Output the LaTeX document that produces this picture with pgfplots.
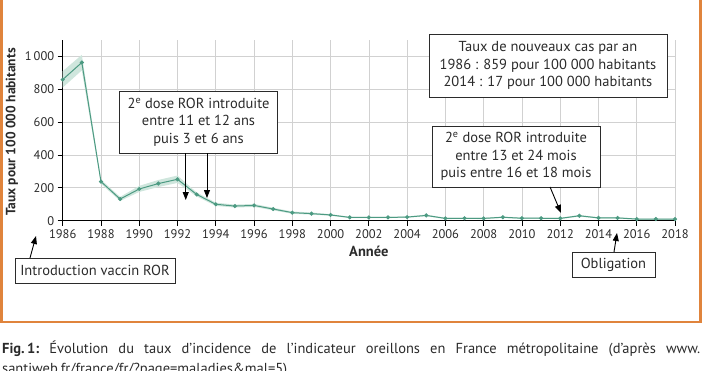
\documentclass[border=0pt]{standalone}
\usepackage{fontspec}
\setmainfont{PT Sans}
\usepackage{pgfplots}
\pgfplotsset{compat=1.18}
\usepgfplotslibrary{fillbetween}
\usetikzlibrary{arrows.meta}
\definecolor{frameor}{HTML}{E0843C}
\definecolor{teal1}{HTML}{4C9A82}
\definecolor{bandc}{HTML}{CFE6DD}
\definecolor{txt}{HTML}{2B2B2B}
\pgfplotstableread{
year val lo hi
1986 859 810 910
1987 963 915 1010
1988 238 225 250
1989 132 120 145
1990 193 175 212
1991 226 205 248
1992 252 230 275
1993 160 148 172
1994 100 90 110
1995 89 80 98
1996 93 84 102
1997 71 63 79
1998 49 42 56
1999 43 37 50
2000 35 30 40
2001 20 16 24
2002 20 16 24
2003 20 16 24
2004 22 18 26
2005 32 27 37
2006 14 10 18
2007 15 11 19
2008 14 10 18
2009 21 17 25
2010 15 11 19
2011 15 11 19
2012 14 10 18
2013 30 25 35
2014 17 13 21
2015 17 13 21
2016 10 7 13
2017 10 7 13
2018 10 7 13
}\datatable
\tikzset{annot/.style={draw=txt, fill=white, line width=0.8pt, text=txt, align=center, inner sep=0pt, font=\fontsize{14.5}{17.5}\selectfont},
  arr/.style={-{Triangle[length=8pt,width=6pt]}, line width=0.9pt, draw=black}}
\begin{document}
\begin{tikzpicture}
\path (0pt,0pt) rectangle (702pt,370pt);
\node[anchor=base west, inner sep=0pt, text=txt, font=\fontsize{14.5}{16}\selectfont] at (2pt,17pt)
  {\makebox[698pt][s]{\mbox{\textbf{Fig.\,1:}} Évolution du taux d'incidence de l'indicateur oreillons en France métropolitaine (d'après www.}};
\node[rotate=90, text=txt, font=\fontsize{13.5}{15}\selectfont\bfseries] at (12pt,238pt) {Taux pour 100 000 habitants};
\begin{axis}[at={(62.7pt,149.3pt)}, anchor=south west, scale only axis,
  width=612.3pt, height=180.7pt,
  xmin=1986, xmax=2018, ymin=0, ymax=1100,
  axis lines=left, axis line style={-},
  x axis line style={line width=1.3pt, black},
  y axis line style={line width=0.9pt, black},
  xtick={1986,1988,...,2018}, ytick={0,200,...,1000},
  yticklabels={0,200,400,600,800,1\,000},
  /pgf/number format/set thousands separator={},
  /pgf/number format/assume math mode=true,
  tick align=outside, major tick length=5pt,
  tick style={black, line width=0.8pt},
  grid=major, major grid style={black!18, line width=0.7pt},
  ticklabel style={text=txt, font=\fontsize{12.5}{14}\selectfont},
  clip=false]
\addplot[name path=hi, draw=none, forget plot] table[x=year,y=hi]{\datatable};
\addplot[name path=lo, draw=none, forget plot] table[x=year,y=lo]{\datatable};
\addplot[bandc, forget plot] fill between[of=hi and lo];
\addplot[teal1, line width=1pt, mark=*, mark size=1.5pt, mark options={fill=teal1, draw=teal1}] table[x=year,y=val]{\datatable};
\node[text=txt, font=\fontsize{14.5}{16}\selectfont\bfseries, yshift=-31pt] at (rel axis cs:0.5,0) {Année};
\node[annot, minimum width=158pt, minimum height=62pt] at (axis cs:1993.1,601)
  {2\textsuperscript{e} dose ROR introduite\\entre 11 et 12 ans\\puis 3 et 6 ans};
\draw[arr] (axis cs:1992.43,412) -- (axis cs:1992.43,126);
\draw[arr] (axis cs:1993.54,412) -- (axis cs:1993.54,138);
\node[annot, minimum width=238pt, minimum height=63pt] at (axis cs:2011.36,945)
  {Taux de nouveaux cas par an\\1986 : 859 pour 100 000 habitants\\2014 : 17 pour 100 000 habitants};
\node[annot, minimum width=168pt, minimum height=61pt] at (axis cs:2009.69,391)
  {2\textsuperscript{e} dose ROR introduite\\entre 13 et 24 mois\\puis entre 16 et 18 mois};
\draw[arr] (axis cs:2011.47,205) -- (axis cs:2012.04,47);
\end{axis}
\node[annot, minimum width=160pt, minimum height=25pt] at (95pt,99.5pt) {Introduction vaccin ROR};
\draw[arr] (30pt,112pt) -- (36pt,134pt);
\node[annot, minimum width=83pt, minimum height=25pt] at (613.5pt,105.5pt) {Obligation};
\draw[arr] (614pt,118pt) -- (617pt,137pt);
\useasboundingbox (0pt,0pt) rectangle (702pt,370pt);
\draw[frameor, line width=2.5pt] (1.5pt,380pt) -- (1.5pt,48pt) -- (700.5pt,48pt) -- (700.5pt,380pt);
\node[anchor=base west, inner sep=0pt, text=txt, font=\fontsize{14.5}{16}\selectfont] at (2pt,-3pt)
  {santiweb.fr/france/fr/?page=maladies\&mal=5)};
\end{tikzpicture}
\end{document}
